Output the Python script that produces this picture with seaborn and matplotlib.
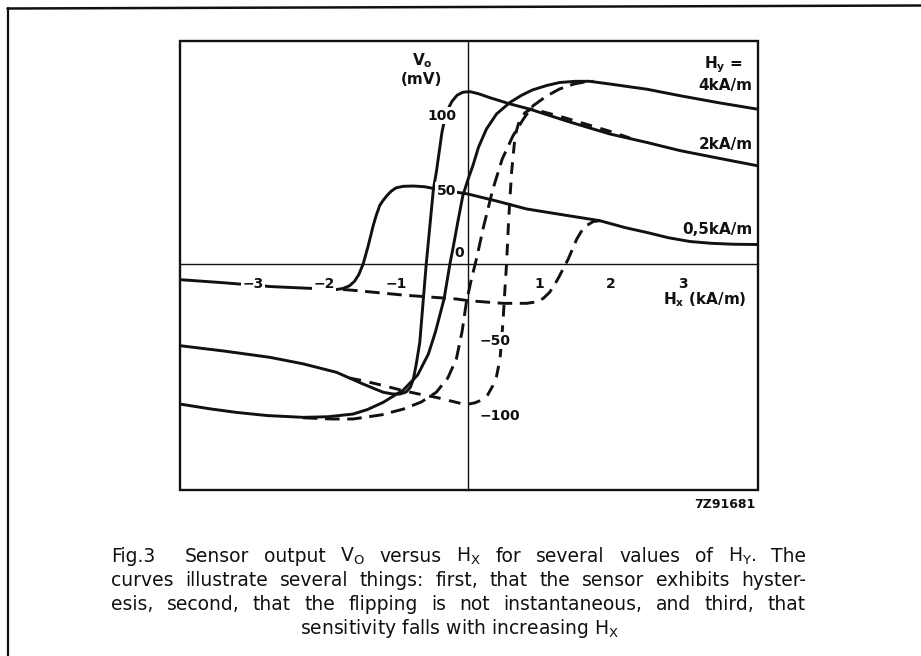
import matplotlib
matplotlib.use("Agg")
import matplotlib.pyplot as plt
import seaborn as sns
import pandas as pd
from matplotlib import font_manager
from matplotlib.lines import Line2D
from matplotlib.patches import Rectangle

# ---- measured branches: Hx in kA/m, Vo in mV ----
# sweep towards negative Hx (solid)
hy4_down_hx = [4.03, 3.5, 2.96, 2.5, 1.98, 1.70, 1.5, 1.28, 1.1, 0.9, 0.75, 0.59, 0.4, 0.26,
               0.15, 0.07, 0.0, -0.07, -0.14, -0.2, -0.25, -0.33, -0.45, -0.55, -0.7, -0.9,
               -1.18, -1.4, -1.6, -1.95, -2.3, -2.8, -3.23, -3.6, -4.02]
hy4_down_vo = [103.3, 107.5, 112.2, 116.5, 120, 121.8, 121.8, 121, 119, 116, 112.5, 107.8, 100, 90,
               78, 65.5, 56, 45.5, 28, 12.2, 0, -23, -45, -60, -74, -84,
               -92.2, -97, -100, -101.8, -102.2, -101, -98.9, -96.5, -93.3]
hy2_down_hx = [4.03, 3.5, 2.96, 2.5, 1.98, 1.4, 0.86, 0.59, 0.3, 0.15, 0.03, -0.07, -0.15,
               -0.22, -0.28, -0.32, -0.36, -0.44, -0.48, -0.58, -0.67, -0.72, -0.76, -0.8,
               -0.86, -0.95, -1.05, -1.18, -1.46, -1.83, -2.3, -2.76, -3.4, -4.02]
hy2_down_vo = [65.6, 70.5, 75.6, 81, 86.7, 95, 103.3, 106.7, 111, 113.5, 114.9, 114.5, 112.5,
               108.5, 103, 97, 88, 61, 50, 0, -52.2, -67, -76.7, -82,
               -85.3, -86.7, -86.6, -85.5, -80, -72.2, -66.5, -62.2, -58, -54.4]
hy05_down_hx = [4.03, 3.7, 3.4, 3.1, 2.8, 2.5, 2.2, 1.84, 1.3, 0.82, 0.4, 0, -0.44, -0.6,
                -0.76, -0.9, -1.0, -1.07, -1.13, -1.18, -1.23, -1.28, -1.32, -1.39, -1.46,
                -1.52, -1.58, -1.65, -1.74, -1.83, -2.3, -2.76, -3.4, -4.02]
hy05_down_vo = [13, 13.2, 13.8, 15, 17.5, 21, 24.2, 28.9, 33, 36.7, 42, 46.7, 50, 51.5,
                52, 51.8, 50.8, 48.5, 45.5, 42.5, 38.9, 32, 25.5, 12, 0,
                -7, -11.5, -14.5, -16.3, -17, -16, -15, -12.5, -10.4]

# sweep towards positive Hx (dashed, where it leaves the solid branch)
hy4_up_hx = [-2.3, -1.9, -1.6, -1.2, -0.9, -0.65, -0.44, -0.28, -0.16, -0.08, -0.02, 0.05,
             0.12, 0.22, 0.35, 0.48, 0.63, 0.78, 0.91, 1.1, 1.28, 1.48, 1.66, 1.75]
hy4_up_vo = [-102.5, -103.3, -103.3, -100.5, -96.7, -92, -85.5, -76, -63.3, -45, -25.5, -10,
             3.3, 25, 50, 70, 85.5, 97, 105.5, 112, 116.7, 120, 121.6, 121.8]
hy2_up_hx = [-1.65, -1.46, -1.18, -0.95, -0.7, -0.44, -0.16, -0.07, 0.03, 0.1, 0.17, 0.23,
             0.28, 0.35, 0.4, 0.45, 0.49, 0.52, 0.54, 0.57, 0.61, 0.64, 0.66, 0.7, 0.73,
             0.8, 0.89, 1.28, 1.98, 2.26]
hy2_up_vo = [-76, -77.8, -81, -83.8, -86.5, -88.9, -92.2, -93.3, -93.2, -92.5, -91.1, -89.5,
             -87, -81, -75, -63, -38.9, -15, 0, 30, 61, 76, 85.5, 92.5, 96.7,
             101, 103.5, 98.5, 88.5, 84]
hy05_up_hx = [-1.74, -1.6, -0.9, -0.16, 0, 0.49, 0.82, 0.95, 1.05, 1.14, 1.22, 1.28, 1.40,
              1.52, 1.58, 1.65, 1.75, 1.84]
hy05_up_vo = [-17, -17.5, -20.7, -23.3, -24.4, -26.2, -26.2, -25.3, -23, -18.9, -13, -7.8, 3.3,
              16.7, 21.5, 25.5, 28.3, 28.9]

hy_labels = ["4kA/m", "2kA/m", "0,5kA/m"]
hy_label_vo = [118.7, 80, 23.3]

x_ticks = [-3, -2, -1, 1, 2, 3]
x_tick_labels = ["\u22123", "\u22122", "\u22121", "1", "2", "3"]
y_major = [-100, -50, 50, 100]
y_major_labels = ["\u2212100", "\u221250", "50", "100"]
y_minor = [-125, -75, -25, 25, 75, 125]

caption_lines = [
    "Fig.3  Sensor output $\\mathregular{V_O}$ versus $\\mathregular{H_X}$ for several values of $\\mathregular{H_Y}$. The",
    "curves illustrate several things: first, that the sensor exhibits hyster-",
    "esis, second, that the flipping is not instantaneous, and third, that",
    "sensitivity falls with increasing $\\mathregular{H_X}$",
]

# ---- style ----
sns.set_theme(style="white")
plt.rcParams["font.family"] = ["DejaVu Sans"]
plt.rcParams["mathtext.default"] = "regular"

caption_family = "DejaVu Sans"

W, H = 921, 656
fig = plt.figure(figsize=(W / 100, H / 100), dpi=100)
fig.patch.set_facecolor("white")

ax = fig.add_axes([180 / W, 1 - 489.5 / H, 577.5 / W, 449 / H])
ax.set_facecolor("white")

ink = "#111111"
branches = [
    (hy4_down_hx, hy4_down_vo, ""),
    (hy2_down_hx, hy2_down_vo, ""),
    (hy05_down_hx, hy05_down_vo, ""),
    (hy4_up_hx, hy4_up_vo, (5, 2.6)),
    (hy2_up_hx, hy2_up_vo, (4, 3)),
    (hy05_up_hx, hy05_up_vo, (5, 2.6)),
]
for hx, vo, dash in branches:
    df = pd.DataFrame({"Hx": hx, "Vo": vo})
    sns.lineplot(data=df, x="Hx", y="Vo", sort=False, estimator=None,
                 color=ink, linewidth=2.1, ax=ax)
    l = ax.lines[-1]
    if dash:
        l.set_dashes(dash)
    l.set_solid_capstyle("round")
    l.set_solid_joinstyle("round")

ax.set_xlim(-4.014, 4.04)
ax.set_ylim(-150.3, 149)
ax.set_xlabel("")
ax.set_ylabel("")

# axes through the origin
for side in ["left", "bottom", "right"]:
    ax.spines[side].set_position(("data", 0))
for side in ["left", "bottom"]:
    ax.spines[side].set_linewidth(1.0)
    ax.spines[side].set_color(ink)
ax.spines["top"].set_visible(False)
ax.spines["right"].set_visible(False)
ax.set_axisbelow(False)

# outer plot frame
ax.add_patch(Rectangle((0, 0), 1, 1, transform=ax.transAxes, fill=False,
                       edgecolor=ink, linewidth=1.7, clip_on=False, zorder=3))

tick_font = dict(family="DejaVu Sans", weight="bold", size=10)
white_box = dict(facecolor="white", edgecolor="none", pad=1.0)
ax.set_xticks(x_ticks, labels=x_tick_labels, fontdict=tick_font)
ax.tick_params(axis="x", direction="in", length=8, width=1.0, color=ink, pad=9,
               labelcolor=ink, top=False)
for t in ax.get_xticklabels():
    t.set_bbox(white_box)

ax.set_yticks(y_major, labels=y_major_labels, fontdict=tick_font)
ax.set_yticks(y_minor, minor=True)
ax.tick_params(axis="y", which="both", direction="inout", length=11, width=1.0,
               color=ink, labelcolor=ink, pad=3, right=False, labelright=True)
ax.tick_params(axis="y", which="minor", labelleft=False, labelright=False)
for tick, v in zip(ax.yaxis.get_major_ticks(), y_major):
    tick.label1.set_visible(v > 0)
    tick.label2.set_visible(v < 0)
    tick.label2.set_fontproperties(font_manager.FontProperties(**tick_font))
    tick.label2.set_color(ink)
    tick.label1.set_bbox(white_box)
    tick.label2.set_bbox(white_box)

lab = dict(family="DejaVu Sans", weight="bold", size=11, color=ink)
ax.annotate("0", xy=(0, 0), xytext=(-3, 3), textcoords="offset points",
            ha="right", va="bottom", **{**lab, "size": 10})
ax.text(-0.64, 135.5, "$\\mathregular{V_o}$", ha="center", va="center", **lab)
ax.text(-0.64, 123, "(mV)", ha="center", va="center", **lab)
ax.text(3.83, 132.7, "$\\mathregular{H_y}$ =", ha="right", va="center", **lab)
for txt, v in zip(hy_labels, hy_label_vo):
    ax.text(3.97, v, txt, ha="right", va="center", **lab)
ax.text(3.89, -24, "$\\mathregular{H_x}$ (kA/m)", ha="right", va="center", **lab)

fig.text(755 / W, 1 - 505 / H, "7Z91681", ha="right", va="center",
         family="DejaVu Sans", weight="bold", size=9, color=ink)

# page border
fig.add_artist(Line2D([7.5 / W, 7.5 / W], [1 - 8 / H, 0], color=ink, linewidth=1.6))
fig.add_artist(Line2D([7.5 / W, 1.0], [1 - 8.5 / H, 1 - 5.5 / H], color=ink, linewidth=1.8))

# caption: last line sets the type size, the others are justified between margins
renderer = fig.canvas.get_renderer()
x_left, x_right = 111, 806
last_line_width = 328
baselines = [562, 586, 610, 634]

probe = fig.text(0, 0, caption_lines[3], family=caption_family, size=13)
probe_w = probe.get_window_extent(renderer).width
probe.remove()
cap_size = min(13.5, 13 * last_line_width / probe_w)
cap_font = dict(family=caption_family, size=cap_size, color=ink)


def justified(line, y_px):
    words = line.split(" ")
    # the double space after the figure number stays a wider gap
    weights = []
    tokens = []
    for w in words:
        if w == "":
            weights[-1] += 1
            continue
        tokens.append(w)
        weights.append(1)
    weights = weights[:-1]
    texts = [fig.text(0, 1 - y_px / H, w, ha="left", va="baseline", **cap_font) for w in tokens]
    widths = [t.get_window_extent(renderer).width for t in texts]
    free = (x_right - x_left) - sum(widths)
    unit = free / sum(weights)
    x = x_left
    for t, w, g in zip(texts, widths, weights + [0]):
        t.set_x(x / W)
        x += w + g * unit


for line, yb in zip(caption_lines[:3], baselines[:3]):
    justified(line, yb)
fig.text(460 / W, 1 - baselines[3] / H, caption_lines[3], ha="center", va="baseline", **cap_font)

fig.savefig("out.png", dpi=100, facecolor="white")
